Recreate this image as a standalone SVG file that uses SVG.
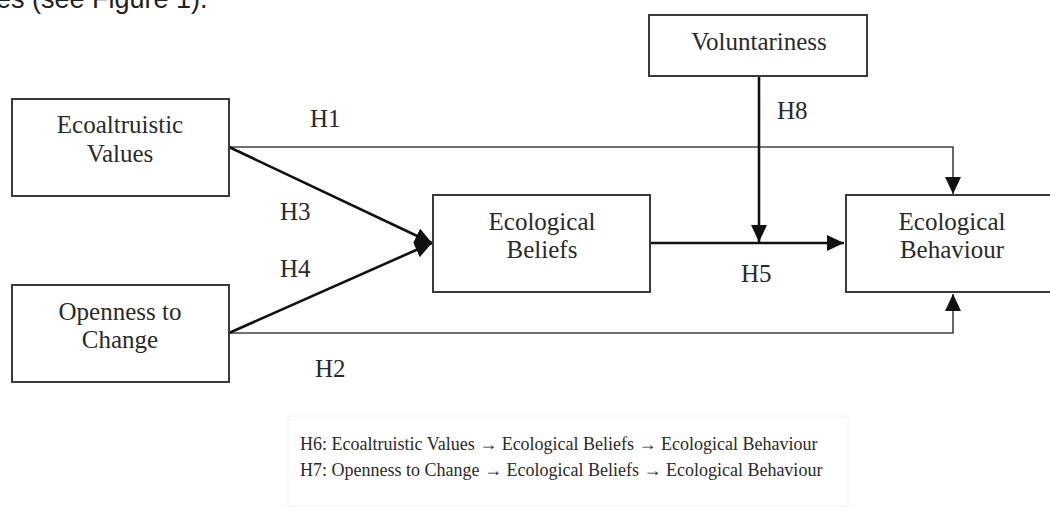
<svg xmlns="http://www.w3.org/2000/svg" width="1050" height="514" viewBox="0 0 1050 514">
<defs>
<style>
.box{fill:#fff;stroke:#3a3a3a;stroke-width:2}
.lbl{font-family:"Liberation Serif","Times New Roman",serif;font-size:25px;fill:#2a2a2a;text-anchor:middle}
.h{font-family:"Liberation Serif","Times New Roman",serif;font-size:25px;fill:#2a2a2a}
.thin{fill:none;stroke:#444;stroke-width:1.6}
.thick{fill:none;stroke:#111;stroke-width:2.6}
.leg{font-family:"Liberation Serif","Times New Roman",serif;font-size:18px;fill:#2a2a2a}
</style>
<marker id="ah" markerUnits="userSpaceOnUse" markerWidth="18" markerHeight="16" refX="17" refY="8" orient="auto">
<path d="M0,0 L17,8 L0,16 Z" fill="#111"/>
</marker>
</defs>
<rect width="1050" height="514" fill="#fff"/>
<text x="-4" y="8" style="font-family:'Liberation Sans',Arial,sans-serif;font-size:27px;fill:#222">es (see Figure 1).</text>

<g id="connectors">
<path class="thin" d="M229,147 H953 V194" marker-end="url(#ah)"/>
<path class="thin" d="M229,333 H953 V294" marker-end="url(#ah)"/>
<path class="thick" d="M229,147 L432,243" marker-end="url(#ah)"/>
<path class="thick" d="M229,333 L432,243" marker-end="url(#ah)"/>
<path class="thick" d="M650,243 H844" marker-end="url(#ah)"/>
<path class="thick" d="M759,76 V242" marker-end="url(#ah)"/>
<text class="h" x="310" y="127">H1</text>
<text class="h" x="315" y="377">H2</text>
<text class="h" x="280" y="220">H3</text>
<text class="h" x="280" y="277">H4</text>
<text class="h" x="741" y="282">H5</text>
<text class="h" x="777" y="119">H8</text>
</g>

<g id="eco-values">
<rect class="box" x="12" y="99" width="217" height="97"/>
<text class="lbl" x="120" y="133">Ecoaltruistic</text>
<text class="lbl" x="120" y="162">Values</text>
</g>
<g id="openness">
<rect class="box" x="12" y="285" width="217" height="97"/>
<text class="lbl" x="120" y="320">Openness to</text>
<text class="lbl" x="120" y="348">Change</text>
</g>
<g id="beliefs">
<rect class="box" x="433" y="195" width="217" height="97"/>
<text class="lbl" x="542" y="230">Ecological</text>
<text class="lbl" x="542" y="258">Beliefs</text>
</g>
<g id="behaviour">
<rect class="box" x="846" y="195" width="214" height="97"/>
<text class="lbl" x="952" y="230">Ecological</text>
<text class="lbl" x="952" y="258">Behaviour</text>
</g>
<g id="voluntariness">
<rect class="box" x="649" y="15" width="218" height="61"/>
<text class="lbl" x="759" y="50">Voluntariness</text>
</g>

<g id="legend">
<rect x="288" y="416" width="560" height="90" fill="none" stroke="#f2f2f2" stroke-width="1"/>
<text class="leg" x="300" y="450">H6: Ecoaltruistic Values → Ecological Beliefs → Ecological Behaviour</text>
<text class="leg" x="300" y="476">H7: Openness to Change → Ecological Beliefs → Ecological Behaviour</text>
</g>
</svg>
